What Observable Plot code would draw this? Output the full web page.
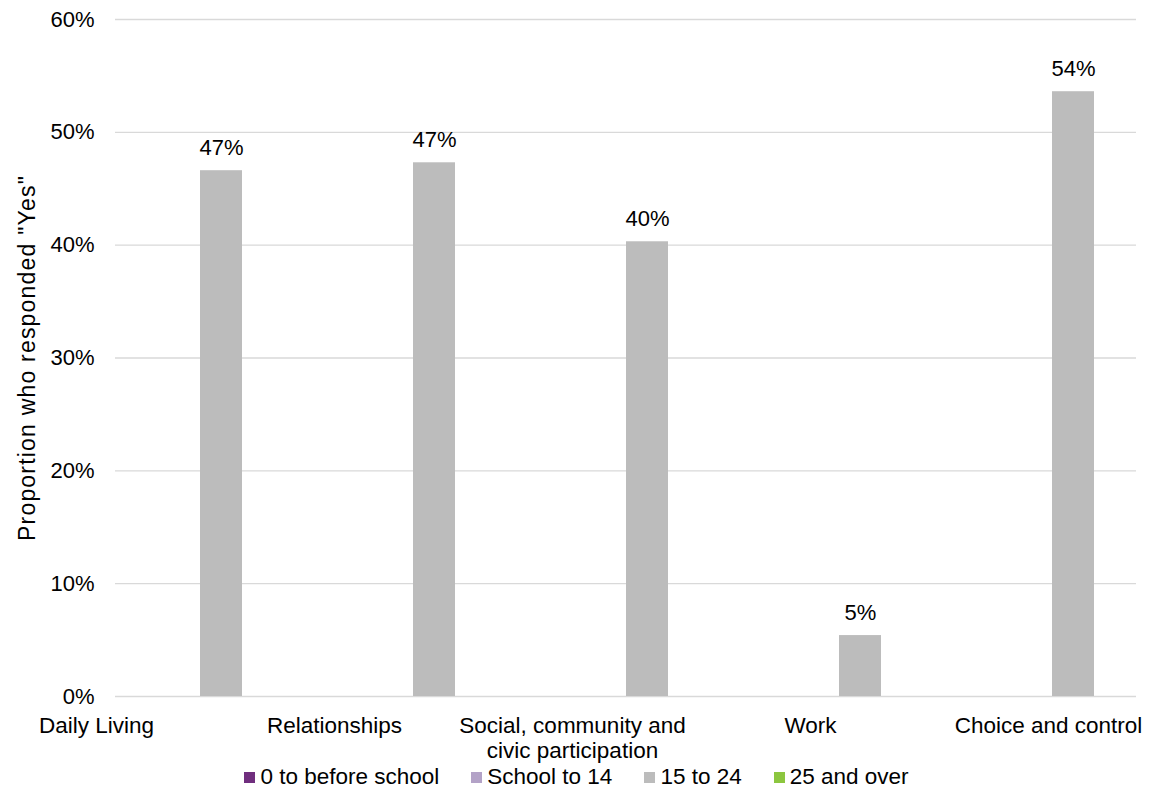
<!DOCTYPE html>
<html>
<head>
<meta charset="utf-8">
<script src="https://cdn.jsdelivr.net/npm/d3@7"></script>
<script src="https://cdn.jsdelivr.net/npm/@observablehq/plot@0.6"></script>
<style>
  html, body { margin: 0; padding: 0; background: #fff; }
  body { width: 1153px; height: 798px; overflow: hidden; font-family: "Liberation Sans", Arial, sans-serif; }
  #chart { position: relative; width: 1153px; height: 760px; }
  #chart svg { position: absolute; left: 0; top: 0; }
  #legend { display: flex; justify-content: center; align-items: center; gap: 32px; margin-top: 5px; font-size: 22.5px; line-height: 24px; color: #000; }
  #legend .item { display: flex; align-items: center; gap: 5px; }
  #legend .swatch { width: 11px; height: 11px; display: inline-block; }
</style>
</head>
<body>
<div id="chart"></div>
<div id="legend"></div>
<script>
// ---- data ----
const categories = ["Daily Living", "Relationships", "Social, community and civic participation", "Work", "Choice and control"];
const categoryLabels = ["Daily Living", "Relationships", "Social, community and\ncivic participation", "Work", "Choice and control"];
const series = ["0 to before school", "School to 14", "15 to 24", "25 and over"];
const values0ToBeforeSchool = [null, null, null, null, null];
const valuesSchoolTo14 = [null, null, null, null, null];
const values15To24 = [46.6, 47.3, 40.3, 5.4, 53.6];
const values25AndOver = [null, null, null, null, null];
const yTicks = [0, 10, 20, 30, 40, 50, 60];
const yTitle = "Proportion who responded \"Yes\"";

const seriesColors = ["#702e7e", "#b3a2c7", "#bcbcbc", "#8cc63f"];
const seriesValues = [values0ToBeforeSchool, valuesSchoolTo14, values15To24, values25AndOver];

const data = [];
series.forEach((s, j) => {
  categories.forEach((c, i) => {
    const v = seriesValues[j][i];
    if (v != null) data.push({category: c, series: s, value: v});
  });
});

const font = "'Liberation Sans', Arial, sans-serif";
const common = {
  width: 1153,
  height: 760,
  marginLeft: 115,
  marginRight: 17,
  marginTop: 19,
  marginBottom: 64,
  y: {domain: [0, 60], axis: null}
};
const catRange = [93.5, 1158.5];   // band range of the category groups
const labelRange = [96, 1048];     // span of the category labels

// background: grid, axis labels, titles
const back = Plot.plot({
  ...common,
  style: {fontFamily: font, fontSize: "22px", color: "#000", background: "#fff", overflow: "visible"},
  x: {type: "point", domain: categories, range: labelRange, padding: 0, axis: null},
  marks: [
    Plot.ruleY(yTicks, {stroke: "#d9d9d9", strokeWidth: 1.3}),
    Plot.text(yTicks, {y: d => d, frameAnchor: "left", dx: -21, textAnchor: "end", text: d => d + "%", fontSize: 22, fill: "#000"}),
    Plot.text([yTitle], {frameAnchor: "left", dx: -88, rotate: -90, textAnchor: "middle", fontSize: 23, fill: "#000"}),
    Plot.text(categories, {x: d => d, text: (d, i) => categoryLabels[i], frameAnchor: "bottom", lineAnchor: "top", dy: 18, lineHeight: 1.14, fontSize: 22.5, fill: "#000"})
  ]
});
// widen the axis title's letter spacing like the original
d3.select(back).selectAll("text").filter(function() { return this.textContent === yTitle; }).attr("letter-spacing", "1.2px");

// foreground: grouped bars via facets
const front = Plot.plot({
  ...common,
  style: {fontFamily: font, fontSize: "22px", color: "#000", background: "transparent", overflow: "visible"},
  fx: {domain: categories, range: catRange, padding: 0, axis: null, round: false},
  x: {domain: series, paddingInner: 0, paddingOuter: 0.5357, axis: null, round: false},
  color: {domain: series, range: seriesColors},
  marks: [
    Plot.barY(data, {fx: "category", x: "series", y: "value", fill: "series"}),
    Plot.text(data, {fx: "category", x: "series", y: "value", text: d => Math.round(d.value) + "%", lineAnchor: "bottom", dy: -16, fontSize: 22, fill: "#000"})
  ]
});

const chartDiv = document.getElementById("chart");
chartDiv.appendChild(back);
chartDiv.appendChild(front);

// legend
const legend = document.getElementById("legend");
series.forEach((s, j) => {
  const item = document.createElement("span");
  item.className = "item";
  const sw = document.createElement("span");
  sw.className = "swatch";
  sw.style.background = seriesColors[j];
  const t = document.createElement("span");
  t.textContent = s;
  item.appendChild(sw);
  item.appendChild(t);
  legend.appendChild(item);
});
</script>
</body>
</html>
